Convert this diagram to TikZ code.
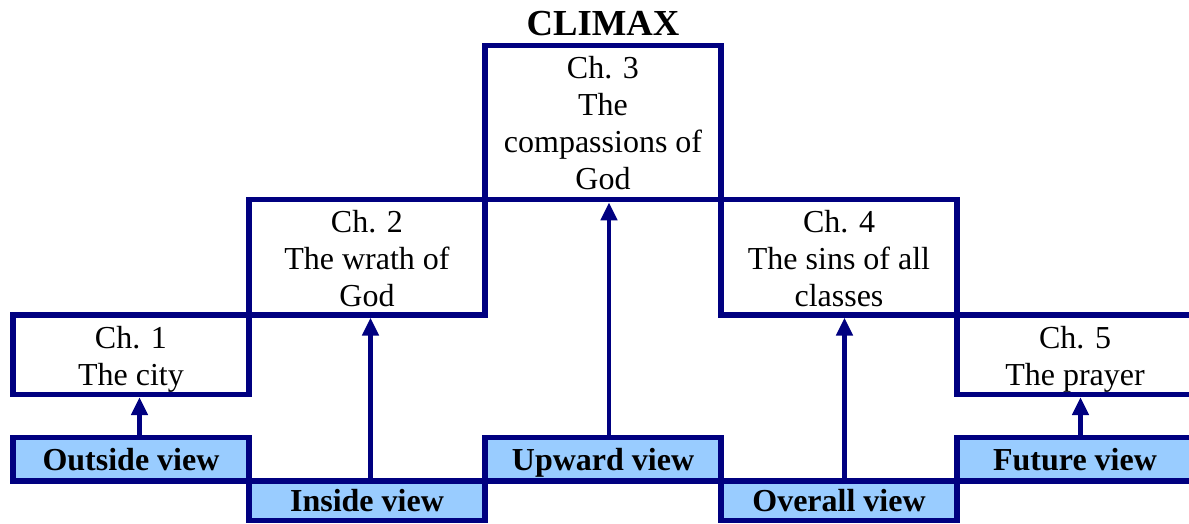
\documentclass[tikz,border=0pt]{standalone}
\usepackage{fontspec}
\setmainfont{Liberation Serif}
\usetikzlibrary{arrows.meta}
\definecolor{framec}{RGB}{0,0,128}
\definecolor{viewc}{RGB}{153,204,255}
\newlength\pxu
\setlength\pxu{0.75pt}
% chapter text: top aligned box of given height (in px)
\newcommand{\chtext}[2]{\parbox[t][#1\pxu][t]{236\pxu}{\centering\rule{0pt}{33\pxu}#2}}

\begin{document}
\begin{tikzpicture}[x=0.75pt, y=-0.75pt, >={Triangle[width=12pt,length=13.5pt]},
    chapter/.style={draw=framec, line width=4pt, inner sep=0pt, font=\fontsize{24}{27.75}\selectfont},
    view/.style={draw=framec, fill=viewc, line width=4pt, inner sep=0pt, minimum width=177pt,
      text height=16.3pt, text depth=0pt, font=\fontsize{24}{27.75}\selectfont\bfseries},
    viewarrow/.style={->, framec, line width=3.6pt}]
  \useasboundingbox (0,0) rectangle (1189,524);
  \clip (0,0) rectangle (1189,524);

  % chapter steps
  \node[chapter] (ch1) at (131,354.75) {\chtext{79.5}{Ch. 1\\The city}};
  \node[chapter] (ch2) at (367,257.25) {\chtext{115.5}{Ch. 2\\The wrath of\\God}};
  \node[chapter] (ch3) at (603,122.75) {\chtext{154}{Ch. 3\\The\\compassions of\\God}};
  \node[chapter] (ch4) at (839,257.25) {\chtext{115.5}{Ch. 4\\The sins of all\\classes}};
  \node[chapter] (ch5) at (1075,354.75) {\chtext{79.5}{Ch. 5\\The prayer}};
  \node[font=\fontsize{27.5}{33}\selectfont\bfseries, anchor=base] (climax)
    at ([yshift=5.85pt]ch3.north) {CLIMAX};

  % views underneath
  \node[view, minimum height=32.625pt] (outside) at (131,459.25) {Outside view};
  \node[view, minimum height=29.625pt] (inside) at (367,500.75) {Inside view};
  \node[view, minimum height=32.625pt] (upward) at (603,459.25) {Upward view};
  \node[view, minimum height=29.625pt] (overall) at (839,500.75) {Overall view};
  \node[view, minimum height=32.625pt] (future) at (1075,459.25) {Future view};

  % arrows up from each view
  \foreach \v/\c/\dx in {outside/ch1/8.5, inside/ch2/3.5, upward/ch3/6, overall/ch4/5.5, future/ch5/5.5}{
    \draw[viewarrow] ([xshift=\dx*0.75pt]\v.north) -- ([xshift=\dx*0.75pt]\c.south);
  }
\end{tikzpicture}
\end{document}
